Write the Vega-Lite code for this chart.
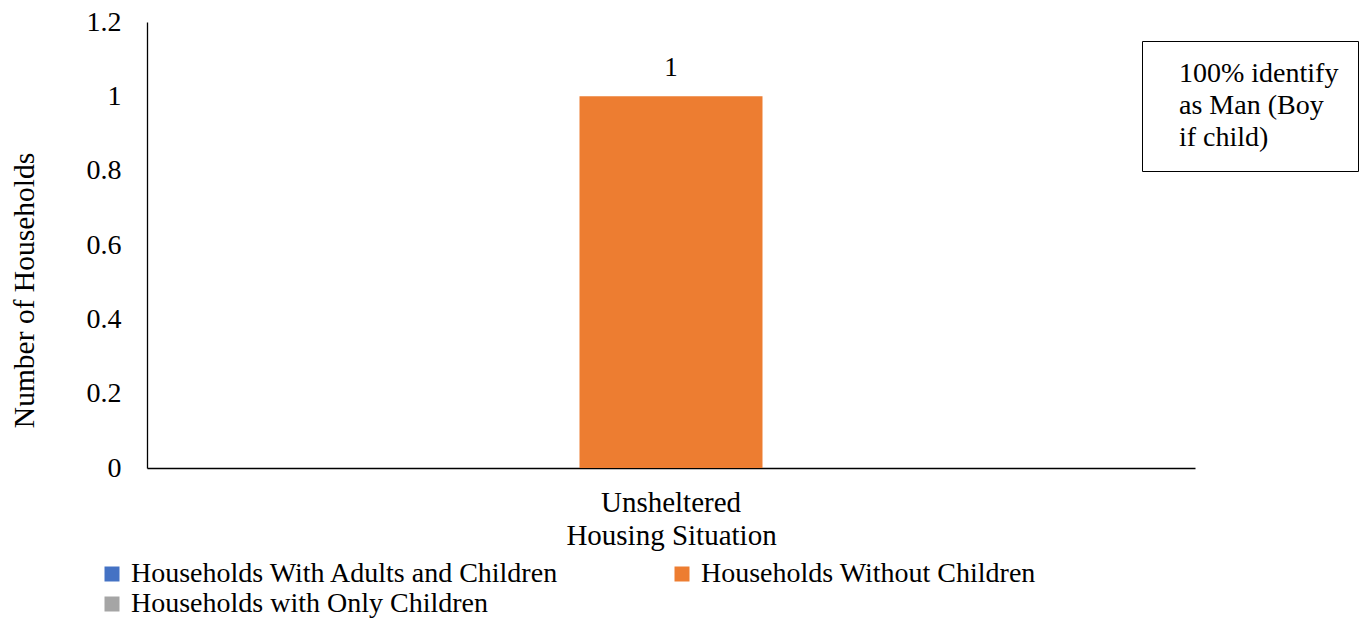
{
  "$schema": "https://vega.github.io/schema/vega-lite/v6.json",
  "autosize": {"type": "none"},
  "width": 1048,
  "height": 446,
  "padding": {"left": 147, "top": 22, "right": 176, "bottom": 152},
  "background": "white",
  "config": {
    "view": {"stroke": null},
    "font": "Liberation Serif",
    "axis": {"labelFont": "Liberation Serif", "titleFont": "Liberation Serif", "labelColor": "#000", "titleColor": "#000", "titleFontWeight": "normal"},
    "legend": {"labelFont": "Liberation Serif", "labelColor": "#000"}
  },
  "title": {
    "text": "Fig. 18: Unsheltered Homeless Households by Housing Situation",
    "font": "Liberation Serif",
    "fontSize": 26,
    "fontWeight": "bold",
    "color": "#000",
    "anchor": "middle",
    "baseline": "alphabetic",
    "offset": 12,
    "dx": -30
  },
  "layer": [
    {
      "data": {"values": [
        {"situation": "Unsheltered", "series": "Households With Adults and Children", "value": 0},
        {"situation": "Unsheltered", "series": "Households Without Children", "value": 1},
        {"situation": "Unsheltered", "series": "Households with Only Children", "value": 0}
      ]},
      "layer": [
        {
          "mark": {"type": "bar"},
          "encoding": {
            "x": {"field": "situation", "type": "nominal",
              "scale": {"paddingInner": 0, "paddingOuter": 0.4545},
              "axis": {"title": "Housing Situation", "labelAngle": 0, "labelFontSize": 29, "titleFontSize": 29, "ticks": false, "domainColor": "#000", "domainWidth": 1.3, "labelPadding": 20, "titlePadding": 4}},
            "xOffset": {"field": "series", "type": "nominal", "scale": {"paddingInner": 0, "paddingOuter": 0}},
            "y": {"field": "value", "type": "quantitative",
              "scale": {"domain": [0, 1.2], "nice": false},
              "axis": {"title": "Number of Households", "values": [0, 0.2, 0.4, 0.6, 0.8, 1, 1.2], "format": "~g", "grid": false, "ticks": false, "labelFontSize": 28, "titleFontSize": 29.5, "domainColor": "#000", "domainWidth": 1.3, "labelPadding": 26, "titleX": -114, "titleY": 268, "titleBaseline": "alphabetic"}},
            "color": {"field": "series", "type": "nominal",
              "scale": {"domain": ["Households With Adults and Children", "Households Without Children", "Households with Only Children"], "range": ["#4472C4", "#ED7D31", "#A5A5A5"]},
              "legend": {"title": null, "orient": "none", "legendX": -49, "legendY": 538, "columns": 2, "columnPadding": 108, "rowPadding": 2,
                "values": ["Households With Adults and Children", "Households with Only Children", "Households Without Children"],
                "symbolType": "square", "symbolSize": 225, "symbolStrokeWidth": 0, "labelFont": "Liberation Serif", "labelFontSize": 28, "labelOffset": 5, "labelLimit": 600}}
          }
        },
        {
          "transform": [{"filter": "datum.value > 0"}],
          "mark": {"type": "text", "fontSize": 27, "font": "Liberation Serif", "color": "#000", "baseline": "alphabetic", "dy": -20},
          "encoding": {
            "x": {"field": "situation", "type": "nominal"},
            "xOffset": {"field": "series", "type": "nominal"},
            "y": {"field": "value", "type": "quantitative"},
            "text": {"field": "value", "type": "quantitative", "format": "~g"}
          }
        }
      ]
    },
    {
      "data": {"values": [
        {"note": "100% identify"},
        {"note": "as Man (Boy"},
        {"note": "if child)"}
      ]},
      "mark": {"type": "point", "opacity": 0},
      "encoding": {
        "shape": {"field": "note", "type": "nominal",
          "scale": {"domain": ["100% identify", "as Man (Boy", "if child)"]},
          "legend": {"title": null, "orient": "none", "legendX": 995, "legendY": 19, "strokeColor": "#000", "padding": 19, "symbolOpacity": 0, "symbolSize": 1, "labelOffset": -10, "labelFont": "Liberation Serif", "labelFontSize": 28, "rowPadding": 4, "labelLimit": 400}}
      }
    }
  ]
}
